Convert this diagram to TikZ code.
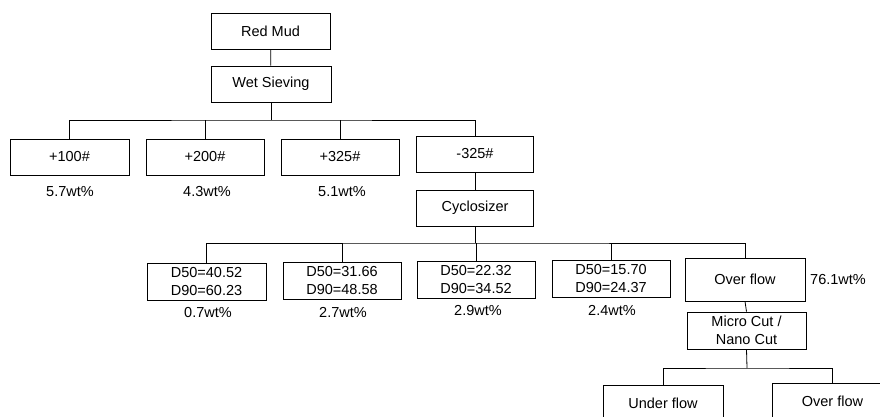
\documentclass[tikz,border=0pt]{standalone}
\usepackage{fontspec}
\setmainfont{Liberation Sans}
\begin{document}
\begin{tikzpicture}[x=1pt,y=-1pt,
  box/.style={draw=black,line width=0.8pt,inner sep=0pt,align=center,
    font=\fontsize{14.5}{18.5}\selectfont},
  lbl/.style={inner sep=0pt,font=\fontsize{14.5}{16}\selectfont},
  conn/.style={draw=black,line width=0.8pt}]
\useasboundingbox (0,0) rectangle (880,417);
\clip (0,0) rectangle (880,417);
% level 0
\node[box,minimum width=119pt,minimum height=36pt] (redmud) at (270.5,31) {Red Mud};
\node[box,minimum width=120pt,minimum height=36pt] (wet) at (271,84) {Wet Sieving};
% level 1
\node[box,minimum width=119pt,minimum height=36pt] (p100) at (69.5,157) {+100\#};
\node[box,minimum width=118pt,minimum height=36pt] (p200) at (205,157) {+200\#};
\node[box,minimum width=118pt,minimum height=36pt] (p325) at (340,157) {+325\#};
\node[box,minimum width=117pt,minimum height=36pt] (m325) at (475,154) {-325\#};
\node[lbl] (w100) at (70,192) {5.7wt\%};
\node[lbl] (w200) at (207,192) {4.3wt\%};
\node[lbl] (w325) at (342,192) {5.1wt\%};
\node[box,minimum width=117pt,minimum height=36pt] (cyc) at (475,208) {Cyclosizer};
% level 2
\node[box,minimum width=119pt,minimum height=37pt] (d1) at (206.5,281.5) {D50=40.52\\D90=60.23};
\node[box,minimum width=118pt,minimum height=37pt] (d2) at (342,280.5) {D50=31.66\\D90=48.58};
\node[box,minimum width=118pt,minimum height=37pt] (d3) at (476,279.5) {D50=22.32\\D90=34.52};
\node[box,minimum width=118pt,minimum height=37pt] (d4) at (611,278.5) {D50=15.70\\D90=24.37};
\node[box,minimum width=120pt,minimum height=43pt] (of) at (745,279.5) {Over flow};
\node[lbl] (w1) at (208,313) {0.7wt\%};
\node[lbl] (w2) at (343,312) {2.7wt\%};
\node[lbl] (w3) at (478,311) {2.9wt\%};
\node[lbl] (w4) at (612,310) {2.4wt\%};
\node[lbl] (w5) at (838,280) {76.1wt\%};
\node[box,minimum width=119pt,minimum height=37pt] (mc) at (746.5,330.5) {Micro Cut /\\Nano Cut};
% level 3
\node[box,minimum width=120pt,minimum height=36pt] (uf) at (663,403) {Under flow};
\node[box,minimum width=121pt,minimum height=36pt] (of2) at (832.5,401) {Over flow};
% connector junctions
\coordinate (b1) at (271,120);
\coordinate (b2) at (476,243);
\coordinate (b3) at (747,368);
% connectors
\draw[conn] (redmud) -- (wet);
\draw[conn] (wet.south) -- (b1);
\draw[conn] (p100.north) |- (b1) -| (m325.north);
\draw[conn] (p200.north) -- (p200.north |- b1);
\draw[conn] (p325.north) -- (p325.north |- b1);
\draw[conn] (m325.south) -- (cyc.north);
\draw[conn] (cyc.south) -- (cyc.south |- b2);
\draw[conn] (d1.north) |- (b2) -| (of.north);
\draw[conn] (d2.north) -- (d2.north |- b2);
\draw[conn] (d3.north) -- (d3.north |- b2);
\draw[conn] (d4.north) -- (d4.north |- b2);
\draw[conn] (of.south) -- (mc.north);
\draw[conn] (mc.south) -- (b3);
\draw[conn] (uf.north) |- (b3) -| (of2.north);
\end{tikzpicture}
\end{document}
